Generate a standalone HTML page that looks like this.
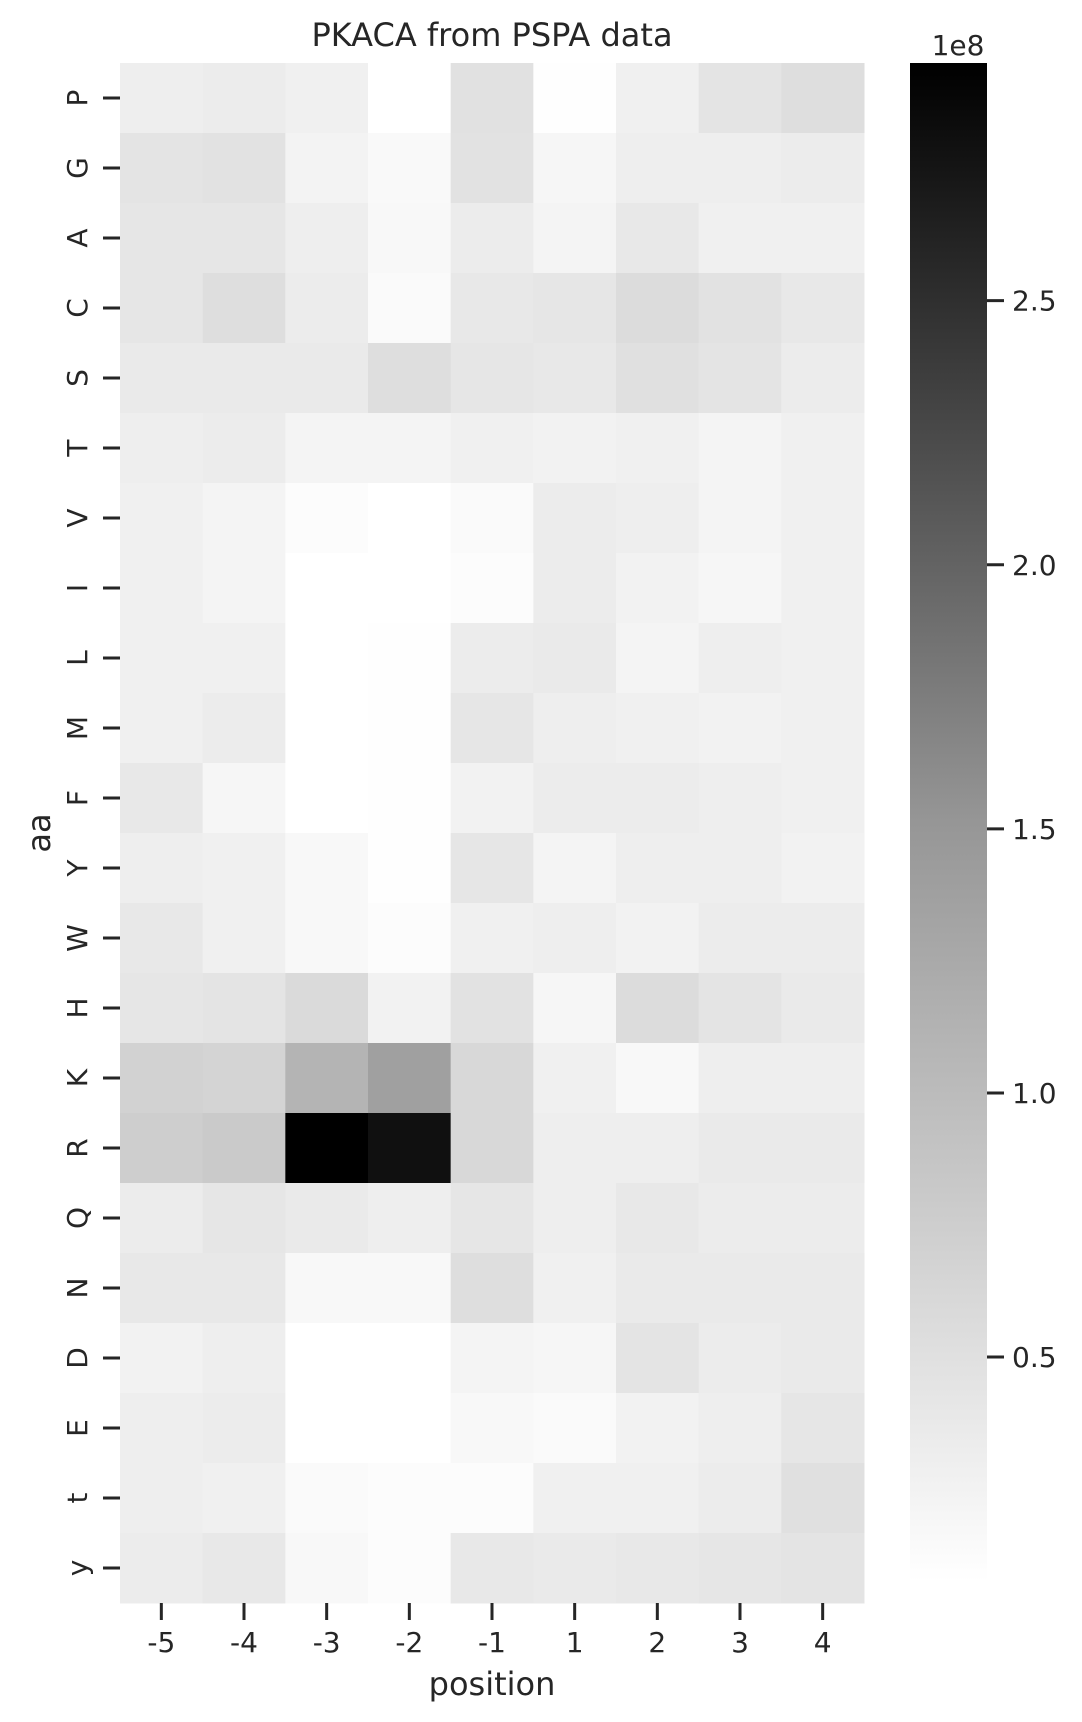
<!DOCTYPE html>
<html><head><meta charset="utf-8"><style>
html,body{margin:0;padding:0;background:#fff;}
svg{display:block;font-family:"DejaVu Sans","Liberation Sans",sans-serif;fill:#262626;}
</style></head><body>
<svg id="chart" width="1082" height="1722" viewBox="0 0 1082 1722" xmlns="http://www.w3.org/2000/svg">
<defs><linearGradient id="cbg" x1="0" y1="1" x2="0" y2="0"><stop offset="0" stop-color="#fff"/><stop offset="0.5" stop-color="#969696"/><stop offset="1" stop-color="#000"/></linearGradient></defs>
<text x="492" y="46" font-size="32" text-anchor="middle">PKACA from PSPA data</text>
<g id="cells"></g><g id="yticks"></g><g id="xticks"></g>
<rect x="910" y="63" width="77" height="1518" fill="url(#cbg)"/>
<g id="cticks"></g>
<text x="958" y="55" font-size="28" text-anchor="middle">1e8</text>
<text x="492" y="1695" font-size="32" text-anchor="middle">position</text>
<text x="50" y="833" font-size="32" text-anchor="middle" transform="rotate(-90 50 833)">aa</text>
</svg>
<script>
const positions=["-5","-4","-3","-2","-1","1","2","3","4"];
const aminoAcids=["P","G","A","C","S","T","V","I","L","M","F","Y","W","H","K","R","Q","N","D","E","t","y"];
const rowP=[0.27,0.29,0.24,0.08,0.41,0.09,0.24,0.38,0.45];
const rowG=[0.38,0.40,0.21,0.14,0.40,0.18,0.27,0.27,0.29];
const rowA=[0.36,0.36,0.27,0.15,0.29,0.20,0.34,0.24,0.24];
const rowC=[0.36,0.45,0.29,0.13,0.34,0.36,0.47,0.40,0.34];
const rowS=[0.31,0.31,0.31,0.45,0.36,0.34,0.43,0.38,0.29];
const rowT=[0.27,0.29,0.20,0.20,0.24,0.22,0.24,0.20,0.24];
const rowV=[0.24,0.20,0.11,0.08,0.13,0.29,0.27,0.20,0.24];
const rowI=[0.24,0.20,0.08,0.08,0.11,0.29,0.22,0.18,0.24];
const rowL=[0.24,0.24,0.08,0.09,0.29,0.31,0.20,0.27,0.24];
const rowM=[0.24,0.29,0.08,0.09,0.36,0.27,0.24,0.22,0.24];
const rowF=[0.34,0.18,0.08,0.09,0.22,0.29,0.29,0.27,0.24];
const rowY=[0.27,0.24,0.15,0.09,0.36,0.20,0.27,0.27,0.22];
const rowW=[0.34,0.24,0.15,0.11,0.24,0.27,0.22,0.29,0.29];
const rowH=[0.36,0.38,0.49,0.22,0.40,0.18,0.47,0.38,0.31];
const rowK=[0.58,0.56,0.92,1.15,0.52,0.24,0.15,0.27,0.27];
const rowR=[0.63,0.67,2.95,2.77,0.52,0.27,0.27,0.31,0.31];
const rowQ=[0.29,0.36,0.31,0.27,0.36,0.27,0.34,0.29,0.29];
const rowN=[0.34,0.34,0.15,0.15,0.45,0.24,0.31,0.31,0.31];
const rowD=[0.22,0.27,0.08,0.08,0.20,0.18,0.38,0.29,0.31];
const rowE=[0.27,0.29,0.08,0.08,0.15,0.13,0.22,0.27,0.36];
const rowt=[0.27,0.24,0.13,0.11,0.11,0.24,0.24,0.29,0.43];
const rowy=[0.29,0.34,0.15,0.11,0.34,0.31,0.34,0.36,0.38];
const values=[rowP,rowG,rowA,rowC,rowS,rowT,rowV,rowI,rowL,rowM,rowF,rowY,rowW,rowH,rowK,rowR,rowQ,rowN,rowD,rowE,rowt,rowy];
const cbTicks=[0.5,1.0,1.5,2.0,2.5];
const cbTickLabels=["0.5","1.0","1.5","2.0","2.5"];
const vmin=0.076, vmax=2.95;

const NS="http://www.w3.org/2000/svg";
const L=120,R=864,T=63,B=1603,cbT=63,cbB=1581;
const cw=(R-L)/positions.length, rh=(B-T)/aminoAcids.length;
const xS=i=>L+i*cw, yS=j=>T+j*rh;
const cbY=v=>cbB-(v-vmin)/(vmax-vmin)*(cbB-cbT);
function grey(v){let t=(v-vmin)/(vmax-vmin);t=Math.max(0,Math.min(1,t));const g=Math.round(255*(1-t));return `rgb(${g},${g},${g})`;}
function mk(tag,attrs,parent,text){const e=document.createElementNS(NS,tag);for(const k in attrs)e.setAttribute(k,attrs[k]);if(text!==undefined)e.textContent=text;parent.appendChild(e);return e;}
const cells=document.getElementById('cells');
values.forEach((row,j)=>row.forEach((v,i)=>{
  const r=mk('rect',{x:xS(i),y:yS(j),width:cw+0.5,height:rh+0.5,fill:grey(v)},cells);
  
  
}));
const yt=document.getElementById('yticks');
aminoAcids.forEach((a,j)=>{
  const cy=yS(j)+rh/2;
  const l=mk('line',{x1:L-17,x2:L,y1:cy,y2:cy,stroke:'#262626','stroke-width':3},yt);
  
  
  const t=mk('text',{x:87,y:cy,'font-size':28,'text-anchor':'middle',transform:`rotate(-90 87 ${cy})`},yt,a);
  
  
});
const xt=document.getElementById('xticks');
positions.forEach((p,i)=>{
  const cx=xS(i)+cw/2;
  const l=mk('line',{x1:cx,x2:cx,y1:B,y2:B+17,stroke:'#262626','stroke-width':3},xt);
  
  
  const t=mk('text',{x:cx,y:1652,'font-size':28,'text-anchor':'middle'},xt,p);
  
  
});
const ct=document.getElementById('cticks');
cbTicks.forEach((v,k)=>{
  const y=cbY(v);
  const l=mk('line',{x1:987,x2:1004,y1:y,y2:y,stroke:'#262626','stroke-width':3},ct);
  
  
  const t=mk('text',{x:1012,y:y+10,'font-size':28},ct,cbTickLabels[k]);
  
  
});
</script>
</body></html>
